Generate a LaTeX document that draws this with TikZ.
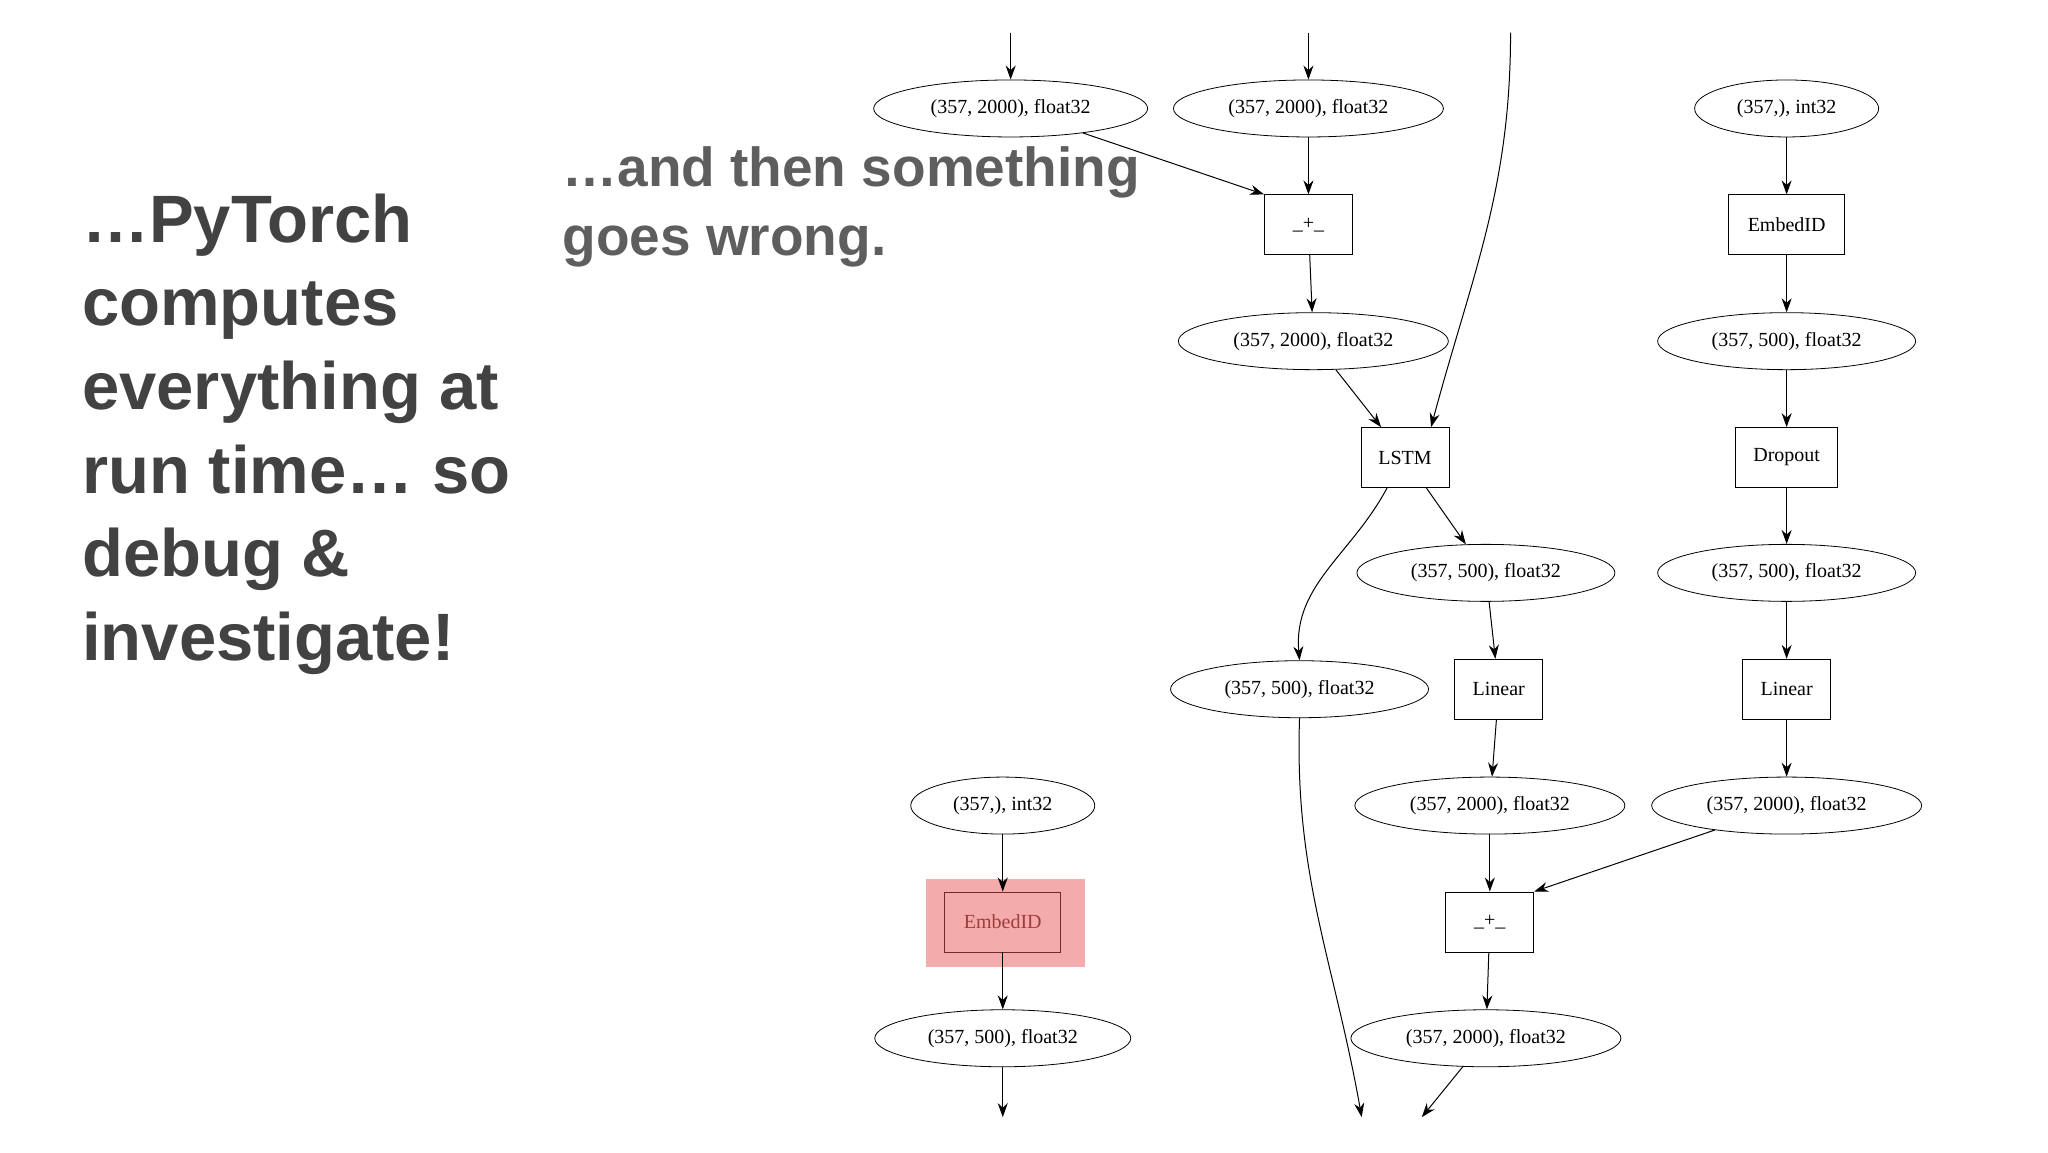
\documentclass[tikz,border=0pt]{standalone}
\usepackage{fontspec}
\setmainfont{Liberation Serif}
\newfontfamily\slidefont{Liberation Sans}
\usetikzlibrary{arrows.meta,shapes.geometric}
\definecolor{slidetext}{HTML}{424242}
\definecolor{subtext}{HTML}{5E5E5E}
\definecolor{hlpink}{HTML}{F4ABAB}
\definecolor{hlred}{HTML}{A03C3C}
\tikzset{
  tensor/.style={draw, ellipse, minimum width=#1, minimum height=28.5pt, inner sep=0pt, font=\fontsize{10}{12}\selectfont},
  tensor/.default=135pt,
  op/.style={draw, rectangle, minimum width=#1, minimum height=30pt, inner sep=0pt, font=\fontsize{10}{12}\selectfont},
  op/.default=44pt,
  edge/.style={-{Stealth[length=7pt,width=5pt]}, line width=0.5pt},
}
\begin{document}
\begin{tikzpicture}[x=0.493pt,y=-0.493pt]
\useasboundingbox[fill=white] (0pt,0pt) rectangle (1024pt,-576pt);
% left text
\node[anchor=north west, align=left, text=slidetext, font=\slidefont\bfseries\fontsize{33.5}{41.8}\selectfont, inner sep=0pt] (lt) at (83,196)
 {…PyTorch\\computes\\everything at\\run time… so\\debug \&\\investigate!};
\node[anchor=north west, align=left, text=subtext, font=\slidefont\bfseries\fontsize{27.5}{34.5}\selectfont, inner sep=0pt] (st) at (570,148)
 {…and then something\\goes wrong.};
% row 1
\coordinate (t1) at (1025,33);
\coordinate (t2) at (1327,33);
\coordinate (t3) at (1532,33);
\node[tensor=137pt] (a1) at (1025,110) {(357, 2000), float32};
\node[tensor=135pt] (a2) at (1327,110) {(357, 2000), float32};
\node[tensor=92pt] (a3) at (1812,110) {(357,), int32};
\node[op] (plus1) at (1327,228) {\_+\_};
\node[op=58pt] (emb1) at (1812,228) {EmbedID};
\node[tensor=135pt] (b1) at (1332,346) {(357, 2000), float32};
\node[tensor=129pt] (b2) at (1812,346) {(357, 500), float32};
\node[op] (lstm) at (1425,464) {LSTM};
\node[op=51pt] (drop) at (1812,464) {Dropout};
\node[tensor=129pt] (c1) at (1507,581) {(357, 500), float32};
\node[tensor=129pt] (c2) at (1812,581) {(357, 500), float32};
\node[tensor=129pt] (d1) at (1318,699) {(357, 500), float32};
\node[op] (lin1) at (1520,699) {Linear};
\node[op] (lin2) at (1812,699) {Linear};
\node[tensor=92pt] (e0) at (1017,817) {(357,), int32};
\node[tensor=135pt] (e1) at (1511,817) {(357, 2000), float32};
\node[tensor=135pt] (e2) at (1812,817) {(357, 2000), float32};
\fill[hlpink] (939,891) rectangle (1100,981);
\node[op=58pt, draw=hlred!70!black, text=hlred] (emb2) at (1017,935) {EmbedID};
\node[op] (plus2) at (1511,935) {\_+\_};
\node[tensor=128pt] (f0) at (1017,1053) {(357, 500), float32};
\node[tensor=135pt] (f1) at (1507,1053) {(357, 2000), float32};
\coordinate (z0) at (1017,1133);
\coordinate (z1) at (1381,1133);
\coordinate (z2) at (1442,1133);
% edges
\draw[edge] (t1) -- (a1);
\draw[edge] (t2) -- (a2);
\draw[edge] (a1) -- (plus1.north west);
\draw[edge] (a2) -- (plus1);
\draw[edge] (plus1) -- (b1);
\draw[edge] (a3) -- (emb1);
\draw[edge] (emb1) -- (b2);
\draw[edge] (b2) -- (drop);
\draw[edge] (drop) -- (c2);
\draw[edge] (b1) -- ([xshift=-12pt]lstm.north);
\draw[edge] (t3) to[out=-90,in=75] ([xshift=13pt]lstm.north);
\draw[edge] (lstm) -- (c1);
\draw[edge] ([xshift=-9pt]lstm.south) to[out=-118,in=95] (d1.north);
\draw[edge] (c1) -- (lin1);
\draw[edge] (c2) -- (lin2);
\draw[edge] (lin1) -- (e1);
\draw[edge] (lin2) -- (e2);
\draw[edge] (e1) -- (plus2);
\draw[edge] (e2) -- (plus2.north east);
\draw[edge] (plus2) -- (f1);
\draw[edge] (e0) -- (emb2);
\draw[edge] (emb2) -- (f0);
\draw[edge] (f0) -- (z0);
\draw[edge] (d1.south) to[out=-92,in=100] (z1);
\draw[edge] (f1) -- (z2);
\end{tikzpicture}
\end{document}
